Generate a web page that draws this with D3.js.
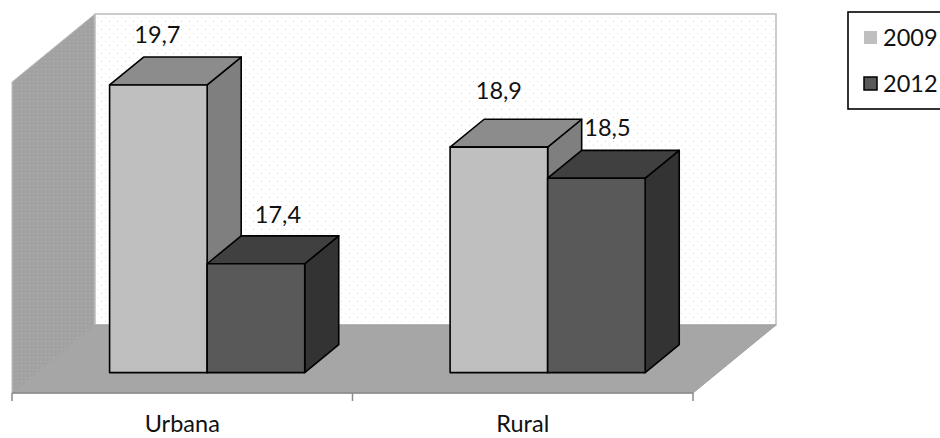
<!DOCTYPE html>
<html><head><meta charset="utf-8">
<script src="https://cdn.jsdelivr.net/npm/d3@7"></script>
<style>html,body{margin:0;padding:0;background:#fff;}svg{display:block;font-family:Lato,"Open Sans",sans-serif;}</style>
</head><body>
<svg id="chart" width="940" height="438"></svg>
<script>
const categories = ["Urbana", "Rural"];
const seriesNames = ["2009", "2012"];
const values2009 = [19.7, 18.9];
const values2012 = [17.4, 18.5];
const valueDomain = [16, 20];

const seriesValues = [values2009, values2012];
const colors = [
  {front:"#bfbfbf", top:"#8c8c8c", side:"#7f7f7f"},
  {front:"#595959", top:"#404040", side:"#333333"}
];
// label nudges (layout only): [series][category]
const labelNudge = [[[-1,-42],[0,-48]],[[22,-41],[11,-42]]];

const svg = d3.select("#chart");
const defs = svg.append("defs");
const pWall = defs.append("pattern").attr("id","dotsW").attr("width",8).attr("height",8).attr("patternUnits","userSpaceOnUse");
pWall.append("rect").attr("width",8).attr("height",8).attr("fill","#ffffff");
pWall.append("rect").attr("x",1).attr("y",1).attr("width",1).attr("height",1).attr("fill","#dcdcdc");
pWall.append("rect").attr("x",5).attr("y",5).attr("width",1).attr("height",1).attr("fill","#dcdcdc");
const pSide = defs.append("pattern").attr("id","dotsS").attr("width",4).attr("height",4).attr("patternUnits","userSpaceOnUse");
pSide.append("rect").attr("width",4).attr("height",4).attr("fill","#a2a2a2");
pSide.append("rect").attr("x",1).attr("y",1).attr("width",1).attr("height",1).attr("fill","#b4b4b4");

// geometry
const floorY = 393, frontX0 = 12, frontX1 = 693;
const DX = 83, DY = -68;           // full depth vector
const zBar = 0.3, zDepth = 0.41;   // bar plane and bar depth fraction
const wallTop = 14;

const xFront = d3.scaleBand().domain(categories).range([frontX0, frontX1]);
const barPlaneY = floorY + zBar*DY;
const y = d3.scaleLinear().domain(valueDomain).range([barPlaneY, wallTop + (1-zBar)*(-DY)]);
const groupFrac = 0.573;
const xInner = d3.scaleBand().domain(seriesNames)
  .range([0, xFront.bandwidth()*groupFrac]);

const line = d3.line();
// left wall
svg.append("path").attr("d", line([[frontX0, floorY-(floorY+DY-wallTop)], [frontX0+DX, wallTop], [frontX0+DX, floorY+DY], [frontX0, floorY]])+"Z")
  .attr("fill","url(#dotsS)").attr("stroke","#bcbcbc").attr("stroke-width",1);
// back wall
svg.append("path").attr("d", line([[frontX0+DX, wallTop],[frontX1+DX, wallTop],[frontX1+DX, floorY+DY],[frontX0+DX, floorY+DY]])+"Z")
  .attr("fill","url(#dotsW)").attr("stroke","#bcbcbc").attr("stroke-width",1.5);
// floor
svg.append("path").attr("d", line([[frontX0, floorY],[frontX1, floorY],[frontX1+DX, floorY+DY],[frontX0+DX, floorY+DY]])+"Z")
  .attr("fill","#a6a6a6").attr("stroke","#a0a0a0").attr("stroke-width",1);
// axis line & ticks
svg.append("line").attr("x1",frontX0).attr("x2",frontX1).attr("y1",floorY).attr("y2",floorY).attr("stroke","#8a8a8a").attr("stroke-width",1.5);
const tickXs = categories.map(c=>xFront(c)).concat([xFront(categories[categories.length-1])+xFront.bandwidth()]);
svg.selectAll(".tick").data(tickXs).enter().append("line")
  .attr("x1",d=>d).attr("x2",d=>d).attr("y1",floorY).attr("y2",floorY+8)
  .attr("stroke","#8a8a8a").attr("stroke-width",1.5);
// category labels
svg.selectAll(".cat").data(categories).enter().append("text")
  .attr("x",c=>xFront(c)+xFront.bandwidth()/2).attr("y",432)
  .attr("text-anchor","middle").attr("font-size",23.5).attr("fill","#111").text(c=>c);

// bars
const bdx = zDepth*DX, bdy = zDepth*DY;
const bars = [];
categories.forEach((c,ci)=>{
  seriesNames.forEach((s,si)=>{
    const x0 = xFront(c) + zBar*DX + xFront.bandwidth()*(1-groupFrac)/2 + xInner(s);
    const w = xInner.bandwidth();
    bars.push({ci, si, x0, w, top:y(seriesValues[si][ci]), bottom:y(valueDomain[0]), v:seriesValues[si][ci]});
  });
});
bars.sort((a,b)=>a.x0-b.x0);
const gB = svg.append("g").attr("stroke","#000").attr("stroke-width",1.6).attr("stroke-linejoin","round");
bars.forEach(b=>{
  const col = colors[b.si];
  gB.append("path").attr("d", line([[b.x0+b.w,b.top],[b.x0+b.w+bdx,b.top+bdy],[b.x0+b.w+bdx,b.bottom+bdy],[b.x0+b.w,b.bottom]])+"Z").attr("fill",col.side);
  gB.append("path").attr("d", line([[b.x0,b.top],[b.x0+bdx,b.top+bdy],[b.x0+b.w+bdx,b.top+bdy],[b.x0+b.w,b.top]])+"Z").attr("fill",col.top);
  gB.append("rect").attr("x",b.x0).attr("y",b.top).attr("width",b.w).attr("height",b.bottom-b.top).attr("fill",col.front);
});
// value labels
bars.forEach(b=>{
  const n = labelNudge[b.si][b.ci];
  svg.append("text").attr("x", b.x0+b.w/2+n[0]).attr("y", b.top+n[1])
    .attr("text-anchor","middle").attr("font-size",23.5).attr("fill","#111")
    .text(String(b.v).replace(".", ","));
});

// legend
const lg = svg.append("g");
lg.append("rect").attr("x",848).attr("y",12).attr("width",110).attr("height",97).attr("fill","#fff").attr("stroke","#000").attr("stroke-width",1.6);
seriesNames.forEach((s,i)=>{
  const yy = 31 + i*46;
  lg.append("rect").attr("x",864).attr("y",yy).attr("width",13).attr("height",13)
    .attr("fill",colors[i].front).attr("stroke", i===0?"none":"#000").attr("stroke-width",1.5);
  lg.append("text").attr("x",883).attr("y",yy+15).attr("font-size",23.5).attr("fill","#111").text(s);
});
</script>
</body></html>
